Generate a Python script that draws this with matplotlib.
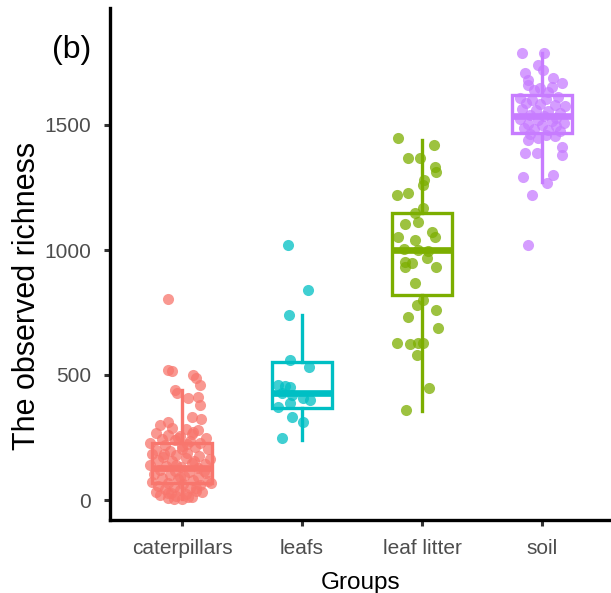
import matplotlib
matplotlib.use("Agg")
import matplotlib.pyplot as plt

plt.rcParams["font.family"] = ["Liberation Sans", "DejaVu Sans"]

# ---- data -------------------------------------------------------------
groups = ["caterpillars", "leafs", "leaf litter", "soil"]
colors = ["#F8766D", "#00BFC4", "#7CAE00", "#C77CFF"]

# box summaries (lower whisker, Q1, median, Q3, upper whisker)
whisker_low = [3, 240, 358, 1272]
q1 = [70, 370, 820, 1468]
median = [128, 428, 1000, 1536]
q3 = [228, 552, 1150, 1620]
whisker_high = [440, 740, 1440, 1788]

# observed richness per sample, with horizontal jitter (category units)
cat_rich = [804, 520, 516, 500, 460, 488, 440, 428, 408, 412, 380, 312, 332,
            324, 272, 32,
            300, 290, 285, 280, 270, 262, 258, 250, 245, 240, 236, 230, 228,
            220, 215, 212, 205, 200, 196, 190, 184, 182, 178, 172, 168, 165,
            160, 155, 150, 146, 140, 136, 132, 128, 122, 118, 114, 110, 104,
            100, 96, 92, 88, 84, 80, 76, 72, 68, 64, 60, 56, 52, 48, 44, 40,
            36, 32, 28, 24, 20, 16, 12, 8, 6, 3,
            265, 248, 226, 204, 186, 158, 142, 116, 94, 70, 50, 30, 14]
cat_jit = [-0.12, -0.12, -0.08, 0.09, 0.15, 0.12, -0.06, -0.04, 0.05, 0.13,
           0.15, -0.12, 0.08, 0.16, 0.09, 0.17,
           -0.18, -0.08, 0.03, 0.13, -0.22, -0.12, -0.02, 0.20, -0.17, -0.06,
           0.07, -0.27, 0.15, -0.14, 0.00, 0.11, 0.22, -0.22, -0.10, 0.04,
           -0.25, -0.05, 0.14, -0.16, 0.03, 0.23, -0.20, -0.08, 0.08, 0.19,
           -0.27, -0.13, -0.01, 0.13, -0.18, -0.06, 0.06, 0.20, -0.23, -0.10,
           0.02, 0.13, -0.17, -0.03, 0.09, 0.22, -0.25, -0.12, 0.01, 0.15,
           -0.20, -0.07, 0.07, -0.14, -0.02, 0.12, -0.22, -0.09, 0.03, -0.18,
           -0.05, 0.08, -0.12, 0.00, -0.07,
           0.08, -0.03, 0.04, 0.00, -0.15, 0.10, -0.05, 0.18, -0.02, 0.24,
           0.12, -0.12, 0.05]

leaf_rich = [1020, 840, 740, 560, 532, 460, 458, 452, 428, 420, 372, 388, 408,
             400, 332, 312, 248]
leaf_jit = [-0.12, 0.05, -0.11, -0.10, 0.06, -0.20, -0.14, -0.10, -0.17,
            -0.08, -0.20, -0.10, 0.01, 0.07, -0.08, 0.01, -0.17]

litter_rich = [1448, 1420, 1368, 1368, 1332, 1312, 1280, 1260, 1222, 1228,
               1168, 1148, 1112, 1104, 1072, 1052, 1052, 1040, 1004, 1000,
               996, 968, 952, 948, 932, 932, 868, 800, 780, 760, 732, 688,
               628, 624, 628, 628, 580, 448, 360]
litter_jit = [-0.20, 0.10, -0.12, -0.02, 0.11, 0.12, 0.02, 0.01, -0.21,
              -0.12, 0.01, -0.06, -0.03, -0.14, 0.08, 0.11, -0.20, -0.06,
              -0.15, -0.03, 0.05, 0.04, -0.14, -0.08, -0.14, 0.12, -0.06,
              0.01, -0.04, 0.12, -0.12, 0.13, -0.21, -0.10, -0.03, 0.01,
              -0.04, 0.06, -0.13]

soil_rich = [1788, 1788, 1740, 1720, 1708, 1680, 1688, 1668, 1660, 1650,
             1652, 1640, 1632,
             1610, 1600, 1605, 1612, 1590, 1585, 1580, 1575, 1565, 1560,
             1555, 1550, 1540, 1535, 1530, 1525, 1520, 1515, 1510, 1505,
             1500, 1495, 1490, 1485, 1480, 1475, 1465, 1460, 1455, 1448,
             1440, 1412, 1388, 1388, 1380, 1292, 1300, 1268, 1220, 1020]
soil_jit = [-0.17, 0.02, -0.03, 0.01, -0.14, -0.12, 0.09, 0.17, -0.12, -0.02,
            0.08, -0.07, 0.05,
            -0.18, -0.08, 0.03, 0.13, -0.13, -0.02, 0.11, 0.19, -0.17, -0.05,
            0.05, 0.15, -0.10, 0.02, 0.12, -0.18, -0.03, 0.08, 0.18, -0.12,
            0.00, 0.12, -0.15, -0.07, 0.05, 0.15, -0.10, 0.03, 0.11, -0.03,
            -0.12, 0.17, -0.14, -0.04, 0.17, -0.16, 0.09, 0.04, -0.08, -0.12]

richness = [cat_rich, leaf_rich, litter_rich, soil_rich]
jitter = [cat_jit, leaf_jit, litter_jit, soil_jit]
yticks = [0, 500, 1000, 1500]

# ---- figure -----------------------------------------------------------
W, H = 611, 593
fig = plt.figure(figsize=(W / 100, H / 100), dpi=100)
ax = fig.add_axes([110 / W, 73 / H, 504 / W, 512 / H])

positions = list(range(1, len(groups) + 1))
stats = [dict(whislo=whisker_low[i], q1=q1[i], med=median[i], q3=q3[i],
              whishi=whisker_high[i], label=groups[i])
         for i in range(len(groups))]
bp = ax.bxp(stats, positions=positions, widths=0.5, showcaps=False,
            showfliers=False, patch_artist=True, zorder=2)
for i, c in enumerate(colors):
    bp["boxes"][i].set(facecolor="white", edgecolor=c, linewidth=2.4)
    bp["medians"][i].set(color=c, linewidth=4.8, solid_capstyle="butt")
    for w in bp["whiskers"][2 * i:2 * i + 2]:
        w.set(color=c, linewidth=2.4)

for i, c in enumerate(colors):
    xs = [positions[i] + j for j in jitter[i]]
    ax.scatter(xs, richness[i], s=64, color=c, alpha=0.75, linewidths=0,
               zorder=3)

ax.set_xlim(0.4, 4.6)
ax.set_ylim(-80, 1968)
ax.set_xticks(positions)
ax.set_xticklabels(groups)
ax.set_yticks(yticks)
ax.set_yticklabels([str(v) for v in yticks])

for side in ("top", "right"):
    ax.spines[side].set_visible(False)
for side in ("left", "bottom"):
    ax.spines[side].set_linewidth(2.4)
    ax.spines[side].set_color("black")
ax.tick_params(axis="both", direction="out", length=4.5, width=2.2,
               color="#333333", labelcolor="#4D4D4D", labelsize=15, pad=9)

fig.text(27 / W, 1 - 296 / H, "The observed richness", rotation=90,
         ha="center", va="center", fontsize=22, color="black")
fig.text(361 / W, 1 - 589 / H, "Groups", ha="center", va="baseline",
         fontsize=17.5, color="black")
fig.text(52 / W, 1 - 50 / H, "(b)", ha="left", va="center", fontsize=23,
         color="black")

fig.savefig("out.png", dpi=100)
